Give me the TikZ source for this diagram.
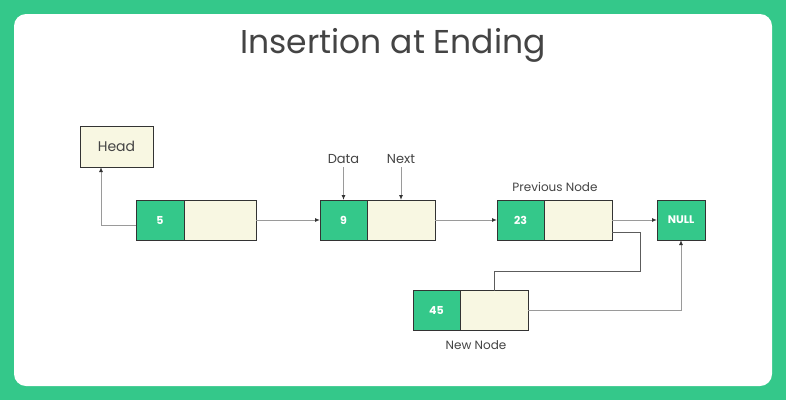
\documentclass[tikz,border=0pt]{standalone}
\usepackage{fontspec}
\setmainfont{Poppins}
\usepackage{tikz}
\usetikzlibrary{arrows.meta, positioning}
\definecolor{framegreen}{HTML}{34C88A}
\definecolor{cellgreen}{HTML}{34C88A}
\definecolor{cellcream}{HTML}{F8F7E2}
\definecolor{edgedark}{HTML}{333333}
\definecolor{linkgray}{HTML}{9A9A9A}
\definecolor{textgray}{HTML}{444444}

\tikzset{
  datacell/.style={draw=edgedark, line width=0.8pt, fill=cellgreen, text=white,
    minimum width=47pt, minimum height=40pt, outer sep=0pt,
    font=\fontsize{11}{13}\selectfont\bfseries},
  nextcell/.style={draw=edgedark, line width=0.8pt, fill=cellcream,
    minimum width=68pt, minimum height=40pt, outer sep=0pt},
  tag/.style={text=textgray, font=\fontsize{13}{15}\selectfont},
  link/.style={draw=linkgray, line width=1pt, -{Latex[length=5pt, width=4pt, color=edgedark]}}
}

\begin{document}
\begin{tikzpicture}[x=1pt, y=-1pt]
% frame
\fill[framegreen] (0,0) rectangle (786,400);
\fill[white, rounded corners=12pt] (14,14) rectangle (772,386);
\useasboundingbox (0,0) rectangle (786,400);

\node[text=textgray, font=\fontsize{33}{38}\selectfont] (title) at (393,45) {Insertion at Ending};

% list nodes
\node[nextcell, minimum width=73pt, minimum height=41pt, tag, font=\fontsize{14}{16}\selectfont] (head) at (116.5,146.5) {Head};

\node[datacell, minimum width=48pt] (d5) at (160,220) {5};
\node[nextcell, minimum width=72pt, right=0pt of d5] (n5) {};

\node[datacell] (d9) at (343.5,220) {9};
\node[nextcell, right=0pt of d9] (n9) {};

\node[datacell] (d23) at (520.5,220) {23};
\node[nextcell, right=0pt of d23] (n23) {};

\node[datacell, minimum width=48pt] (null) at (681,220) {NULL};

\node[datacell] (d45) at (436.5,310.5) {45};
\node[nextcell, right=0pt of d45] (n45) {};

% labels
\node[tag] (data) at (343.5,159) {Data};
\node[tag] (next) at (401,159) {Next};
\node[tag, font=\fontsize{12}{14}\selectfont] (prev) at (555,187) {Previous Node};
\node[tag, font=\fontsize{12}{14}\selectfont] (new) at (476,345) {New Node};

% links
\draw[link] ([yshift=-5pt]d5.west) -| ([xshift=-15.5pt]head.south);
\draw[link] (n5.east) -- (d9.west);
\draw[link] (n9.east) -- (d23.west);
\draw[link] (n23.east) -- (null.west);
\draw[link] (data.south) -- (d9.north);
\draw[link] (next.south) -- (n9.north);
\coordinate (bend) at (640,271);
\draw[edgedark!80, line width=0.8pt] ([yshift=-12pt]n23.east) -| (bend) -| (n45.north);
\draw[link] (n45.east) -| (null.south);
\end{tikzpicture}
\end{document}
